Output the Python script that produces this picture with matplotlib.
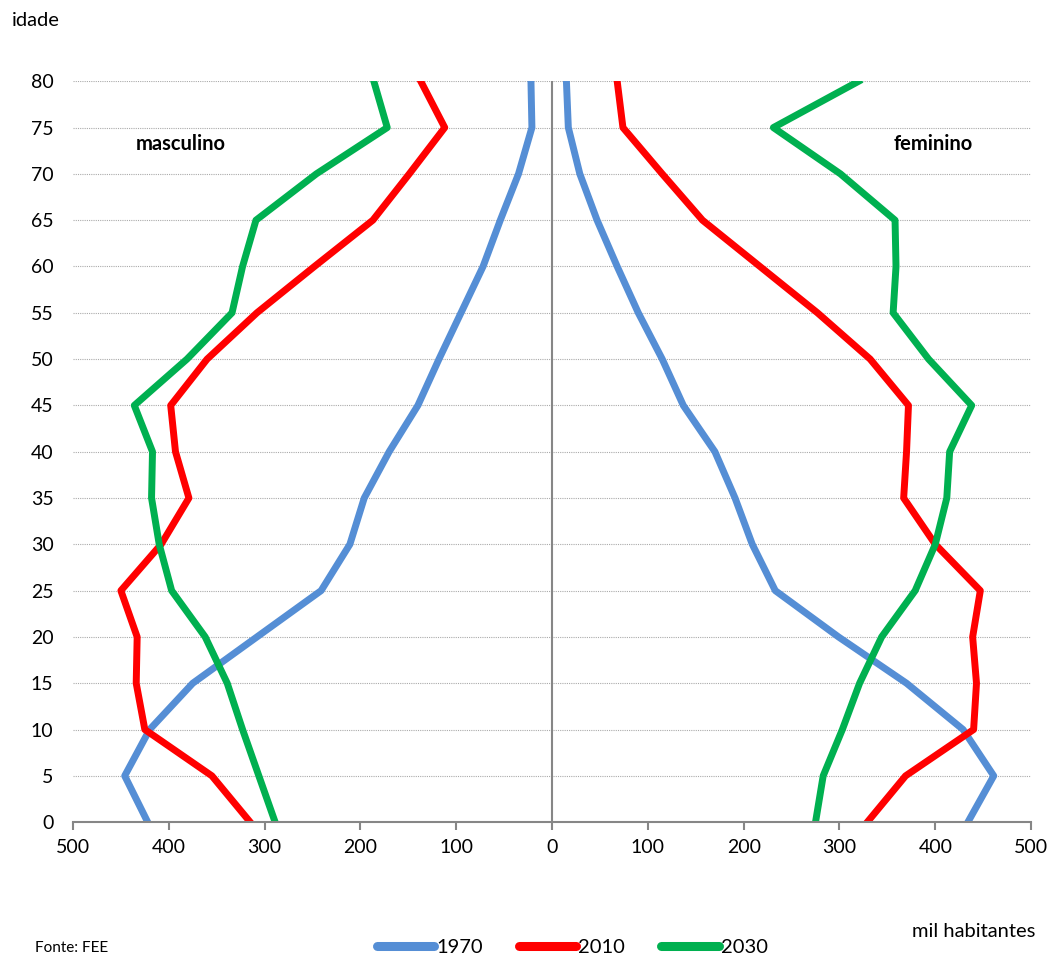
import numpy as np
import matplotlib.pyplot as plt

plt.rcParams['font.family'] = ['Lato', 'DejaVu Sans']

# faixas etarias
idade = [0, 5, 10, 15, 20, 25, 30, 35, 40, 45, 50, 55, 60, 65, 70, 75, 80]

# masculino (mil habitantes)
masc_1970 = [422, 446, 420, 375, 308, 241, 211, 196, 170, 140, 118, 95, 72, 54, 35, 21, 22]
masc_2010 = [315, 355, 425, 434, 433, 450, 408, 379, 393, 398, 360, 308, 248, 187, 149, 112, 137]
masc_2030 = [289, 306, 323, 339, 362, 397, 410, 418, 417, 436, 381, 334, 323, 309, 246, 172, 186]

# feminino (mil habitantes)
fem_1970 = [434, 461, 429, 370, 299, 233, 209, 191, 170, 137, 115, 90, 68, 47, 29, 17, 15]
fem_2010 = [329, 369, 440, 443, 439, 447, 400, 367, 370, 372, 332, 277, 217, 157, 115, 74, 68]
fem_2030 = [275, 283, 303, 321, 344, 379, 400, 412, 415, 438, 393, 356, 359, 358, 301, 231, 320]

anos = ['1970', '2010', '2030']
cores = ['#558ED5', '#FF0000', '#00B050']

fs = 14.5

fig = plt.figure(figsize=(10.5, 9.56), dpi=100)
ax = fig.add_axes([0.0695, 0.14, 0.9125, 0.775])

masc = [masc_1970, masc_2010, masc_2030]
fem = [fem_1970, fem_2010, fem_2030]
for ano, cor, m, f in zip(anos, cores, masc, fem):
    ax.plot(-np.array(m), idade, color=cor, lw=5, label=ano)
    ax.plot(f, idade, color=cor, lw=5)

ax.set_xlim(-500, 500)
ax.set_ylim(0, 80)
ax.set_yticks(range(0, 81, 5))
ax.set_xticks(range(-500, 501, 100))
ax.set_xticklabels([str(abs(v)) for v in range(-500, 501, 100)])

ax.grid(axis='y', color='#AAAAAA', linestyle=(0, (1, 1)), lw=0.8)
ax.set_axisbelow(True)
ax.axvline(0, color='#868686', lw=1.5, zorder=1.5)

for s in ['left', 'right', 'top']:
    ax.spines[s].set_visible(False)
ax.spines['bottom'].set_color('#868686')
ax.spines['bottom'].set_linewidth(1.5)
ax.tick_params(axis='x', direction='out', length=6, color='#868686', width=1.5,
               labelsize=14, pad=6)
ax.tick_params(axis='y', length=0, labelsize=14, pad=14)

ax.text(-434, 73.2, 'masculino', fontsize=fs, fontweight='bold', va='center')
ax.text(356, 73.2, 'feminino', fontsize=fs, fontweight='bold', va='center')

fig.text(0.011, 0.979, 'idade', fontsize=fs, va='center')
fig.text(0.986, 0.026, 'mil habitantes', fontsize=fs, ha='right', va='center')
fig.text(0.033, 0.001, 'Fonte: FEE', fontsize=11, va='bottom')

leg = fig.legend(loc='center', bbox_to_anchor=(0.545, 0.009), ncol=3, frameon=False,
                 fontsize=fs, handlelength=2.85, handletextpad=0.1, columnspacing=1.8,
                 borderpad=0)
for h in leg.get_lines():
    h.set_solid_capstyle('round')
    h.set_linewidth(6.5)

fig.savefig('out.png', dpi=100)
